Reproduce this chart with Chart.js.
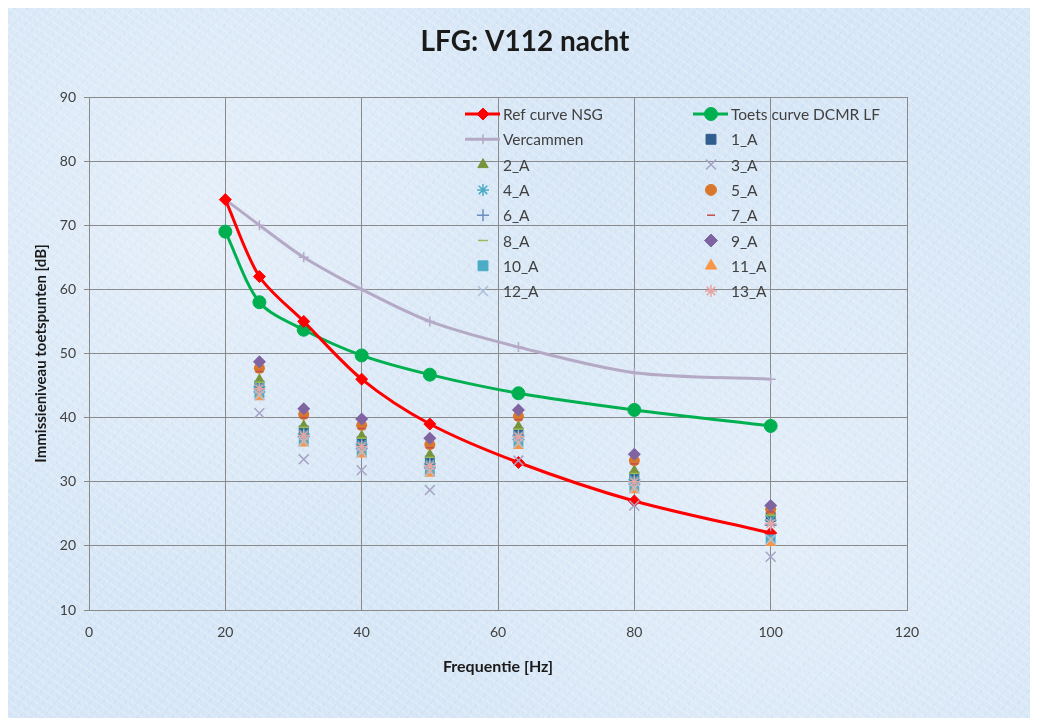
<!DOCTYPE html>
<html>
<head>
<meta charset="utf-8">
<script src="https://cdn.jsdelivr.net/npm/chart.js@4.4.1/dist/chart.umd.min.js"></script>
<style>
  html, body { margin: 0; padding: 0; background: #ffffff; }
  #wrap {
    position: absolute; left: 8px; top: 8px; width: 1022px; height: 710px;
    background-color: #d6e6f6;
    background-image:
      radial-gradient(circle at 20% 30%, rgba(255,255,255,0.35), rgba(255,255,255,0) 40%),
      radial-gradient(circle at 75% 70%, rgba(255,255,255,0.3), rgba(255,255,255,0) 45%),
      repeating-linear-gradient(35deg, rgba(255,255,255,0.16) 0 2px, rgba(255,255,255,0) 2px 7px),
      repeating-linear-gradient(-50deg, rgba(160,190,225,0.14) 0 1px, rgba(255,255,255,0) 1px 9px),
      repeating-linear-gradient(80deg, rgba(255,255,255,0.12) 0 1px, rgba(255,255,255,0) 1px 5px);
  }
</style>
</head>
<body>
<div id="wrap"><canvas id="chart" width="1022" height="710"></canvas></div>
<script>
// Frequencies (Hz)
const curveFreqs = [20, 25, 31.5, 40, 50, 63, 80, 100];
const measFreqs = [25, 31.5, 40, 50, 63, 80, 100];

// Reference curves (dB)
const refNSG = [74, 62, 55, 46, 39, 33, 27, 22];
const dcmrLF = [69, 58, 53.7, 49.7, 46.7, 43.8, 41.2, 38.7];
const vercammen = [74, 70, 65, 60, 55, 51, 47, 46];

// Measured immission levels per test point (dB)
const m1 = [45, 38, 36.3, 33.3, 37.7, 30.8, 24.5];
const m2 = [46, 38.8, 37.2, 34.3, 38.7, 31.8, 25];
const m3 = [40.7, 33.5, 31.8, 28.7, 33.3, 26.3, 18.3];
const m4 = [44.8, 37.5, 35.8, 32.8, 37.2, 30.3, 24];
const m5 = [47.7, 40.5, 38.8, 35.8, 40.2, 33.3, 25.7];
const m6 = [44, 37, 35.2, 32.2, 36.6, 29.6, 23.2];
const m7 = [47.2, 40, 38.3, 35.3, 39.7, 32.8, 25.3];
const m8 = [45.5, 38.5, 36.8, 33.8, 38.2, 31.3, 24.8];
const m9 = [48.7, 41.4, 39.8, 36.8, 41.2, 34.3, 26.3];
const m10 = [43.8, 36.5, 34.8, 31.8, 36.2, 29.2, 21];
const m11 = [43.2, 36, 34.3, 31.3, 35.6, 28.7, 20.5];
const m12 = [43.5, 36.3, 34.6, 31.6, 36, 29, 21];
const m13 = [44.5, 37.2, 35.5, 32.5, 37, 30, 23.5];

const xTicks = [0, 20, 40, 60, 80, 100, 120];
const yTicks = [10, 20, 30, 40, 50, 60, 70, 80, 90];

const FONT = 'Lato, "Liberation Sans", sans-serif';

function pts(xs, ys) {
    return xs.map((x, i) => ({ x: x, y: ys[i] }));
}

function curve(label, ys, color, style, radius) {
    return {
        label: label,
        data: pts(curveFreqs, ys),
        showLine: true,
        borderColor: color,
        backgroundColor: color,
        borderWidth: 3,
        pointStyle: style,
        pointRadius: radius,
        pointBorderColor: color,
        pointBackgroundColor: color,
        pointBorderWidth: style === 'cross' ? 1.5 : 1,
        tension: 0.3,
        order: 20,
        isCurve: true
    };
}

function meas(label, ys, color, style, radius, idx) {
    return {
        label: label,
        data: pts(measFreqs, ys),
        showLine: false,
        borderColor: color,
        backgroundColor: color,
        pointStyle: style,
        pointRadius: radius,
        pointBorderWidth: (style === 'crossRot' || style === 'cross' || style === 'star' || style === 'line' || style === 'dash') ? 1.5 : 0,
        order: 15 - idx
    };
}

const datasets = [
    curve('Ref curve NSG', refNSG, '#ff0000', 'rectRot', 6),
    curve('Toets curve DCMR LF', dcmrLF, '#00b050', 'circle', 6.5),
    curve('Vercammen', vercammen, '#b5aac6', 'cross', 5),
    meas('1_A', m1, '#2f5d8e', 'rect', 7, 1),
    meas('2_A', m2, '#77933c', 'triangle', 6, 2),
    meas('3_A', m3, '#a7a3c6', 'crossRot', 7, 3),
    meas('4_A', m4, '#4bacc6', 'star', 6, 4),
    meas('5_A', m5, '#d9782d', 'circle', 5.5, 5),
    meas('6_A', m6, '#6c8ebf', 'cross', 6, 6),
    meas('7_A', m7, '#c0504d', 'line', 4, 7),
    meas('8_A', m8, '#9bbb59', 'line', 5, 8),
    meas('9_A', m9, '#8064a2', 'rectRot', 6.5, 9),
    meas('10_A', m10, '#4bacc6', 'rect', 7, 10),
    meas('11_A', m11, '#f79646', 'triangle', 6.5, 11),
    meas('12_A', m12, '#aec2e0', 'crossRot', 7, 12),
    meas('13_A', m13, '#e6a5a3', 'star', 6, 13)
];

// Title and legend drawn by hand: title centred on the page, legend inside the plot in two columns
const insideLegend = {
    id: 'insideLegend',
    afterDraw(chart) {
        const ctx = chart.ctx;
        const area = chart.chartArea;
        ctx.save();
        ctx.font = 'bold 28px ' + FONT;
        ctx.textAlign = 'center';
        ctx.textBaseline = 'middle';
        ctx.fillStyle = '#1a1a1a';
        ctx.fillText('LFG: V112 nacht', 517, 34);

        const cols = [area.left + 376, area.left + 604];
        const rowH = 25.3;
        ctx.font = '15.5px ' + FONT;
        ctx.textAlign = 'left';
        chart.data.datasets.forEach((ds, i) => {
            const col = i % 2;
            const row = Math.floor(i / 2);
            const x0 = cols[col];
            const y = area.top + 17 + row * rowH;
            const cx = x0 + 18;
            if (ds.isCurve) {
                ctx.strokeStyle = ds.borderColor;
                ctx.lineWidth = 3;
                ctx.beginPath();
                ctx.moveTo(x0, y);
                ctx.lineTo(x0 + 35, y);
                ctx.stroke();
            }
            ctx.strokeStyle = ds.borderColor;
            ctx.fillStyle = ds.backgroundColor;
            ctx.lineWidth = ds.pointBorderWidth || 1;
            Chart.helpers.drawPoint(ctx, {
                pointStyle: ds.pointStyle,
                radius: ds.pointRadius,
                borderWidth: ds.pointBorderWidth || 1,
                rotation: 0
            }, cx, y);
            ctx.fillStyle = '#404040';
            ctx.fillText(ds.label, x0 + 38, y + 1);
        });
        ctx.restore();
    }
};

const ctx = document.getElementById('chart').getContext('2d');
new Chart(ctx, {
    type: 'scatter',
    data: { datasets: datasets },
    options: {
        responsive: false,
        animation: false,
        layout: {
            padding: { left: 20, right: 123, top: 89, bottom: 38 }
        },
        plugins: {
            legend: { display: false },
            tooltip: { enabled: false },
            title: { display: false }
        },
        scales: {
            x: {
                type: 'linear',
                min: 0,
                max: 120,
                afterBuildTicks: (scale) => { scale.ticks = xTicks.map(v => ({ value: v })); },
                grid: { color: '#8a8a8a', tickLength: 0 },
                border: { color: '#8a8a8a' },
                ticks: { color: '#404040', font: { family: FONT, size: 14 }, padding: 14 },
                title: {
                    display: true,
                    text: 'Frequentie [Hz]',
                    color: '#1a1a1a',
                    font: { family: FONT, size: 16, weight: 'bold' },
                    padding: { top: 2 }
                },
                afterFit: (scale) => { scale.height = 70; }
            },
            y: {
                type: 'linear',
                min: 10,
                max: 90,
                afterBuildTicks: (scale) => { scale.ticks = yTicks.map(v => ({ value: v })); },
                grid: { color: '#8a8a8a', tickLength: 5 },
                border: { color: '#8a8a8a' },
                ticks: { color: '#404040', font: { family: FONT, size: 14 }, padding: 8 },
                title: {
                    display: true,
                    text: 'Immissieniveau toetspunten [dB]',
                    color: '#1a1a1a',
                    font: { family: FONT, size: 15, weight: 'bold' },
                    padding: { bottom: 2 }
                },
                afterFit: (scale) => { scale.width = 61; }
            }
        }
    },
    plugins: [insideLegend]
});
</script>
</body>
</html>
